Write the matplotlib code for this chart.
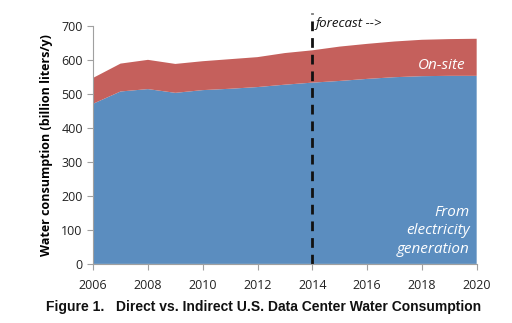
import matplotlib
matplotlib.use("Agg")
import matplotlib.pyplot as plt

years = [2006, 2007, 2008, 2009, 2010, 2011, 2012, 2013, 2014, 2015, 2016, 2017, 2018, 2019, 2020]
electricity = [471, 507, 514, 503, 511, 515, 520, 527, 533, 538, 544, 549, 552, 553, 553]
total = [547, 589, 600, 588, 596, 602, 608, 620, 628, 639, 647, 654, 659, 661, 662]
onsite = [t - e for t, e in zip(total, electricity)]
xticks = [2006, 2008, 2010, 2012, 2014, 2016, 2018, 2020]
yticks = [0, 100, 200, 300, 400, 500, 600, 700]
forecast_year = 2014

blue = "#5B8DBF"
red = "#C5605C"

fig = plt.figure(figsize=(5.12, 3.23), dpi=100)
ax = fig.add_axes([0.182, 0.183, 0.749, 0.737])
ax.stackplot(years, electricity, onsite, colors=[blue, red], linewidth=0)
ax.set_xlim(2006, 2020)
ax.set_ylim(0, 700)
ax.set_xticks(xticks)
ax.set_yticks(yticks)
for s in ["top", "right"]:
    ax.spines[s].set_visible(False)
for s in ["left", "bottom"]:
    ax.spines[s].set_color("#A0A0A0")
ax.tick_params(axis="both", colors="#A0A0A0", labelcolor="#222222", labelsize=9, length=4, direction="out")
for lab in ax.get_xticklabels() + ax.get_yticklabels():
    lab.set_family("Open Sans")
ax.tick_params(axis="x", pad=7)
ax.set_ylabel("Water consumption (billion liters/y)", fontsize=9, fontweight="bold", family="Open Sans", labelpad=6)

ax.plot([forecast_year, forecast_year], [0, 1.055], transform=ax.get_xaxis_transform(),
        color="#111111", lw=2, ls=(0, (3.5, 2.5)), clip_on=False)
ax.text(forecast_year + 0.12, 1.008, "forecast -->", transform=ax.get_xaxis_transform(),
        fontsize=9.5, style="italic", family="Open Sans", color="#111111", va="center")
ax.text(2019.6, 582, "On-site", fontsize=11, style="italic", family="Open Sans", color="white", ha="right", va="center")
ax.text(2019.75, 97, "From\nelectricity\ngeneration", fontsize=11, style="italic", family="Open Sans",
        color="white", ha="right", va="center", linespacing=1.32)

fig.text(0.515, 0.05, "Figure 1.   Direct vs. Indirect U.S. Data Center Water Consumption",
         ha="center", va="center", fontsize=10, fontweight="bold", family="Liberation Sans", color="#111111")

fig.savefig("out.png", dpi=100)
